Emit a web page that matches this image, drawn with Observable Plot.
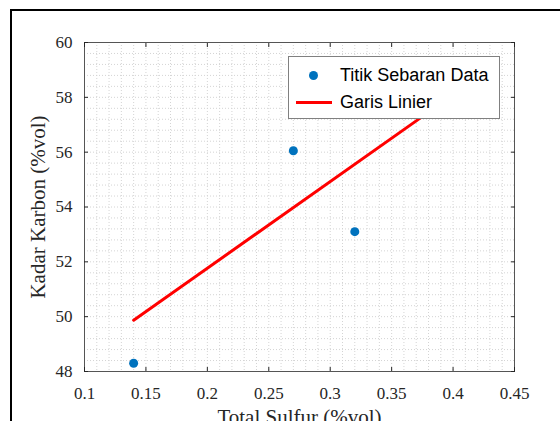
<!DOCTYPE html>
<html>
<head>
<meta charset="utf-8">
<script src="https://cdn.jsdelivr.net/npm/d3@7"></script>
<script src="https://cdn.jsdelivr.net/npm/@observablehq/plot@0.6"></script>
<style>
  html, body { margin: 0; padding: 0; background: #fff; }
  #wrap { position: relative; width: 560px; height: 421px; overflow: hidden; background: #fff; }
  #outer { position: absolute; left: 10px; top: 9px; width: 700px; height: 600px; border: 2px solid #000; pointer-events: none; }
  #chart { position: absolute; left: 0; top: 0; }
  #legend { position: absolute; left: 288px; top: 56px; width: 212px; height: 63px; box-sizing: border-box;
            border: 1px solid #808080; background: #fff; font-family: "Liberation Sans", Arial, sans-serif; font-size: 18px; color: #000; }
  .row { position: absolute; left: 0; height: 20px; line-height: 20px; }
  .lbl { position: absolute; left: 51px; white-space: nowrap; }
  .dot { position: absolute; left: 20px; top: 5.5px; width: 9px; height: 9px; border-radius: 50%; background: #0072BD; }
  .ln { position: absolute; left: 7px; top: 8.5px; width: 36px; height: 3px; background: #FF0000; }
</style>
</head>
<body>
<div id="wrap">
  <div id="chart"></div>
  <div id="outer"></div>
  <div id="legend">
    <div class="row" style="top:8px;"><span class="dot"></span><span class="lbl">Titik Sebaran Data</span></div>
    <div class="row" style="top:35px;"><span class="ln"></span><span class="lbl">Garis Linier</span></div>
  </div>
</div>
<script>
// Data
const sulfur = [0.14, 0.27, 0.32];
const karbon = [48.3, 56.05, 53.1];
// Linear line endpoints
const lineSulfur = [0.14, 0.40];
const lineKarbon = [49.87, 58.09];
// Tick values / labels
const xTicks = [0.1, 0.15, 0.2, 0.25, 0.3, 0.35, 0.4, 0.45];
const xTickLabels = ["0.1", "0.15", "0.2", "0.25", "0.3", "0.35", "0.4", "0.45"];
const yTicks = [48, 50, 52, 54, 56, 58, 60];
const yTickLabels = ["48", "50", "52", "54", "56", "58", "60"];
const xLabel = "Total Sulfur (%vol)";
const yLabel = "Kadar Karbon (%vol)";

const points = sulfur.map((s, i) => ({s, k: karbon[i]}));
const fitLine = lineSulfur.map((s, i) => ({s, k: lineKarbon[i]}));
const xMinor = d3.range(0, 36).map(i => +(0.1 + i * 0.01).toFixed(2));
const yMinor = d3.range(0, 31).map(i => +(48 + i * 0.4).toFixed(1));
const xFmt = d => xTickLabels[xTicks.findIndex(t => Math.abs(t - d) < 1e-9)];
const yFmt = d => yTickLabels[yTicks.indexOf(d)];

const serif = "'Liberation Serif', 'Times New Roman', Times, serif";
const axisColor = "#262626";

const chart = Plot.plot({
  width: 560,
  height: 421,
  marginLeft: 84,
  marginRight: 46,
  marginTop: 42,
  marginBottom: 50,
  style: {background: "transparent", fontFamily: serif, color: axisColor},
  x: {domain: [0.1, 0.45], label: null},
  y: {domain: [48, 60], label: null},
  marks: [
    Plot.gridX(xMinor, {stroke: "#d4d4d4", strokeOpacity: 1, strokeWidth: 1, strokeDasharray: "1,2"}),
    Plot.gridY(yMinor, {stroke: "#d4d4d4", strokeOpacity: 1, strokeWidth: 1, strokeDasharray: "1,2"}),
    Plot.frame({stroke: "#555"}),
    Plot.axisX(xTicks, {anchor: "bottom", tickSize: -4, text: null, stroke: axisColor}),
    Plot.axisX(xTicks, {anchor: "top", tickSize: -4, text: null, stroke: axisColor, label: null}),
    Plot.axisY(yTicks, {anchor: "left", tickSize: -4, text: null, stroke: axisColor}),
    Plot.axisY(yTicks, {anchor: "right", tickSize: -4, text: null, stroke: axisColor, label: null}),
    Plot.axisX(xTicks, {anchor: "bottom", tickSize: 0, tickPadding: 15, tickFormat: xFmt, fontSize: 17, fontFamily: serif, fill: axisColor, label: null}),
    Plot.axisY(yTicks, {anchor: "left", tickSize: 0, tickPadding: 12, tickFormat: yFmt, fontSize: 17, fontFamily: serif, fill: axisColor, label: null}),
    Plot.line(fitLine, {x: "s", y: "k", stroke: "#FF0000", strokeWidth: 3}),
    Plot.dot(points, {x: "s", y: "k", r: 4.5, fill: "#0072BD", stroke: "none"}),
    Plot.text([xLabel], {frameAnchor: "bottom", dy: 46, textAnchor: "middle", lineAnchor: "middle", fontSize: 21, fontFamily: serif, fill: axisColor}),
    Plot.text([yLabel], {frameAnchor: "left", dx: -46, rotate: -90, textAnchor: "middle", lineAnchor: "middle", fontSize: 21, fontFamily: serif, fill: axisColor})
  ]
});
document.getElementById("chart").appendChild(chart);
</script>
</body>
</html>
